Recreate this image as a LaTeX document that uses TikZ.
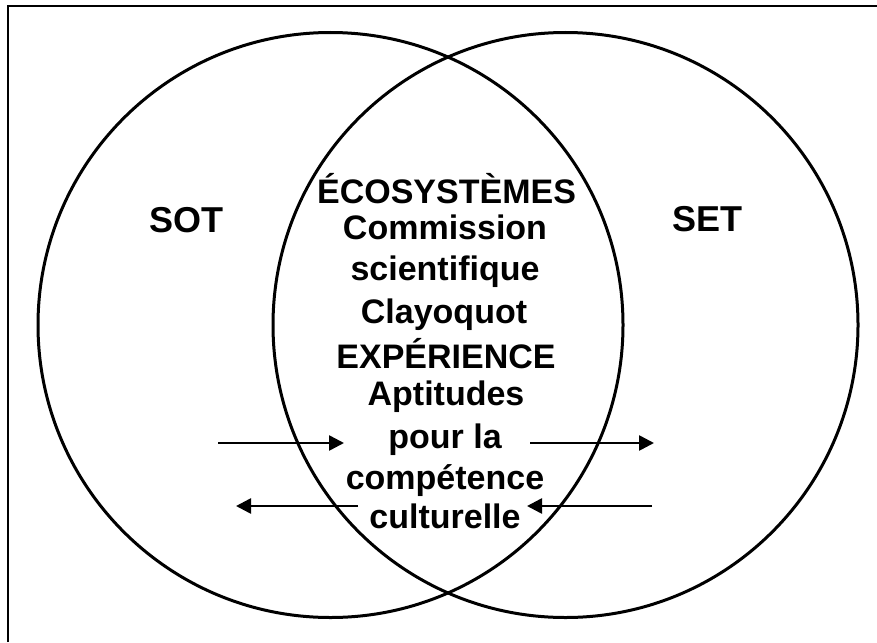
\documentclass[tikz,border=0pt]{standalone}
\usepackage{fontspec}
\setmainfont{Liberation Sans}
\usetikzlibrary{arrows.meta}
\tikzset{
  ring/.style={draw=black, line width=3pt},
  frameline/.style={draw=black, line width=2pt},
  lbl/.style={anchor=base, inner sep=0pt, font=\bfseries\fontsize{34}{40}\selectfont},
  biglbl/.style={anchor=base, inner sep=0pt, font=\bfseries\fontsize{36}{40}\selectfont},
  flow/.style={draw=black, line width=2.6pt, -{Triangle[length=15pt,width=15pt]}}
}
\begin{document}
\begin{tikzpicture}[x=1pt,y=-1pt]
\useasboundingbox (0,0) rectangle (877,642);
\fill[white] (0,0) rectangle (877,642);
% frame (top and left edges only)
\draw[frameline] (8,642) -- (8,6.5) -- (877,6.5);
% circles
\node[ring, circle, minimum size=585pt, inner sep=0pt] (sot) at (330.5,325) {};
\node[ring, circle, minimum size=585pt, inner sep=0pt] (set) at (565.5,325) {};
% labels
\node[biglbl] (tsot) at (186,232) {SOT};
\node[biglbl] (tset) at (707,231) {SET};
\node[lbl] (l1) at (446.5,203) {ÉCOSYSTÈMES};
\node[lbl] (l2) at (445,239) {Commission};
\node[lbl] (l3) at (445,280) {scientifique};
\node[lbl] (l4) at (444,323) {Clayoquot};
\node[lbl] (l5) at (446,368) {EXPÉRIENCE};
\node[lbl] (l6) at (446,405) {Aptitudes};
\node[lbl] (l7) at (445,448) {pour la};
\node[lbl] (l8) at (445,489) {compétence};
\node[lbl] (l9) at (445,528) {culturelle};
% arrows
\coordinate (a1s) at (218,443);
\coordinate (a1e) at (344,443);
\coordinate (a2s) at (530,443);
\coordinate (a2e) at (654,443);
\coordinate (a3s) at (358,506);
\coordinate (a3e) at (236,506);
\coordinate (a4s) at (652,506);
\coordinate (a4e) at (527,506);
\draw[flow] (a1s) -- (a1e);
\draw[flow] (a2s) -- (a2e);
\draw[flow] (a3s) -- (a3e);
\draw[flow] (a4s) -- (a4e);
\end{tikzpicture}
\end{document}
